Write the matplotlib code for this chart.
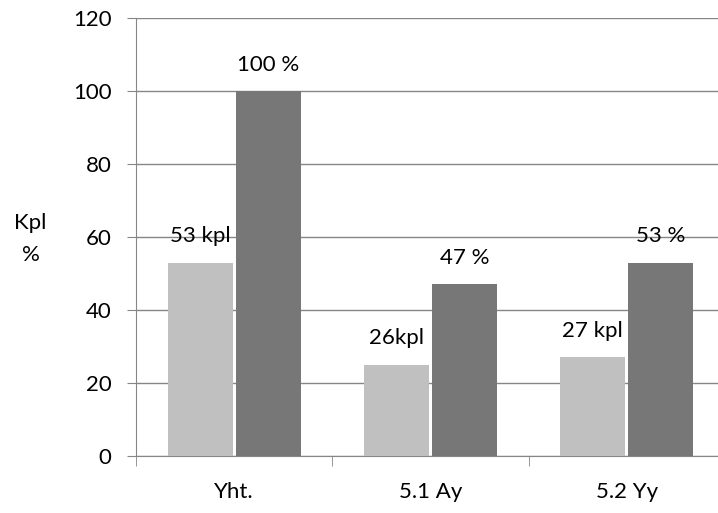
import numpy as np
import matplotlib.pyplot as plt

plt.rcParams['font.family'] = ['Lato', 'DejaVu Sans']

# data
categories = ['Yht.', '5.1 Ay', '5.2 Yy']
kpl_values = [53, 25, 27]
pct_values = [100, 47, 53]
kpl_labels = ['53 kpl', '26kpl', '27 kpl']
pct_labels = ['100 %', '47 %', '53 %']
y_ticks = [0, 20, 40, 60, 80, 100, 120]

light = '#c0c0c0'
dark = '#777777'
axis_grey = '#868686'
fs = 16

fig = plt.figure(figsize=(7.18, 5.13), dpi=100)
# axes runs a little past the right edge, as in the original
ax = fig.add_axes([136 / 718, 57 / 513, 589 / 718, 438 / 513])

x = np.arange(len(categories))
w = 0.33
gap = 0.008
b1 = ax.bar(x - w / 2 - gap, kpl_values, w, color=light, zorder=3)
b2 = ax.bar(x + w / 2 + gap, pct_values, w, color=dark, zorder=3)

for rect, txt in zip(b1, kpl_labels):
    ax.annotate(txt, (rect.get_x() + rect.get_width() / 2, rect.get_height()),
                xytext=(0, 19), textcoords='offset points',
                ha='center', va='center', fontsize=fs)
for rect, txt in zip(b2, pct_labels):
    ax.annotate(txt, (rect.get_x() + rect.get_width() / 2, rect.get_height()),
                xytext=(0, 19), textcoords='offset points',
                ha='center', va='center', fontsize=fs)

ax.set_xlim(-0.5, len(categories) - 0.5)
ax.set_ylim(0, 120)
ax.set_yticks(y_ticks)
ax.tick_params(axis='y', labelsize=fs, length=6.5, color=axis_grey, pad=11)
ax.yaxis.grid(True, color=axis_grey, linewidth=1, zorder=0)

# category labels between separator ticks
ax.set_xticks(x)
ax.set_xticklabels(categories, fontsize=fs)
ax.tick_params(axis='x', length=0, pad=19)
ax.set_xticks(np.arange(len(categories) + 1) - 0.5, minor=True)
ax.tick_params(axis='x', which='minor', length=7, color=axis_grey, direction='out')

for side in ['top', 'right']:
    ax.spines[side].set_visible(False)
for side in ['left', 'bottom']:
    ax.spines[side].set_color(axis_grey)

fig.text(30 / 718, 1 - 223 / 513, 'Kpl', ha='center', va='center', fontsize=fs)
fig.text(31 / 718, 1 - 255 / 513, '%', ha='center', va='center', fontsize=fs)

fig.savefig('out.png', dpi=100)
